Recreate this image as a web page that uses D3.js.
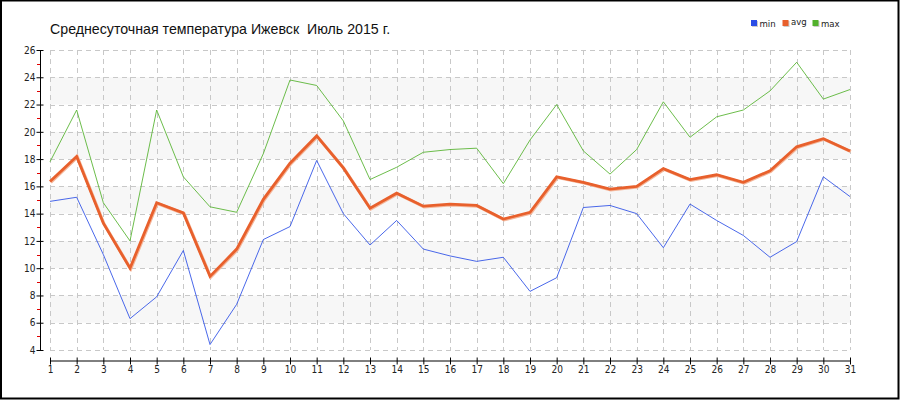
<!DOCTYPE html>
<html><head><meta charset="utf-8">
<script src="https://cdn.jsdelivr.net/npm/d3@7"></script>
<style>
html,body{margin:0;padding:0;background:#fff;}
svg{display:block;}
</style></head>
<body>
<svg id="c" width="900" height="400"></svg>
<script>
const days = d3.range(1, 32);
const minVals = [14.9,15.2,11.0,6.3,7.9,11.3,4.4,7.35,12.1,13.05,17.9,14.0,11.7,13.5,11.4,10.9,10.5,10.8,8.3,9.3,14.45,14.6,14.0,11.5,14.7,13.5,12.4,10.8,11.95,16.7,15.25];
const avgVals = [16.35,18.2,13.3,10.0,14.8,14.05,9.4,11.4,15.05,17.7,19.7,17.35,14.4,15.5,14.55,14.7,14.6,13.6,14.1,16.7,16.3,15.8,16.0,17.3,16.5,16.85,16.3,17.15,18.9,19.5,18.6];
const maxVals = [17.8,21.6,14.8,12.0,21.6,16.7,14.5,14.1,18.4,23.8,23.4,20.8,16.5,17.4,18.5,18.7,18.8,16.2,19.4,22.0,18.6,16.9,18.7,22.2,19.6,21.1,21.6,23.0,25.1,22.4,23.1];
const yTicks = [4,6,8,10,12,14,16,18,20,22,24,26];
const yMinor = [5,7,9,11,13,15,17,19,21,23,25];
const bands = [[6,8],[10,12],[14,16],[18,20],[22,24]];
const seriesNames = ["min","avg","max"];
const seriesColors = ["#2a4de6","#e8602c","#52b12c"];
const title = "Среднесуточная температура Ижевск  Июль 2015 г.";

const svg = d3.select("#c");
const x = d3.scaleLinear().domain([1,31]).range([50,850]);
const y = d3.scaleLinear().domain([4,26]).range([350,50]);
const tickFont = "'DejaVu Sans Condensed','DejaVu Sans',sans-serif";

// bands
svg.append("g").selectAll("rect").data(bands).join("rect")
  .attr("x", 50).attr("width", 800)
  .attr("y", d => y(d[1])).attr("height", d => y(d[0]) - y(d[1]))
  .attr("fill", "#f7f7f7");

// grid
const grid = svg.append("g").attr("stroke", "#c8c8c8").attr("stroke-dasharray", "5,4").attr("stroke-width", 1);
grid.selectAll("line.h").data(yTicks).join("line").attr("class","h")
  .attr("x1", 50).attr("x2", 850)
  .attr("y1", d => Math.round(y(d)) + 0.5).attr("y2", d => Math.round(y(d)) + 0.5);
grid.selectAll("line.v").data(days).join("line").attr("class","v")
  .attr("x1", d => Math.round(x(d)) + 0.5).attr("x2", d => Math.round(x(d)) + 0.5)
  .attr("y1", 50).attr("y2", 350);

// y axis
const yAxis = svg.append("g").attr("transform", "translate(40.5,0)")
  .call(d3.axisLeft(y).tickValues(yTicks).tickSize(4).tickSizeOuter(0).tickFormat(d3.format("d")));
yAxis.select(".domain").attr("stroke", "#000").attr("d", `M0,${y(26)}V${y(4)}`);
yAxis.selectAll(".tick line").attr("stroke", "#000").attr("x1", 3);
yAxis.selectAll(".tick text").attr("font-family", tickFont).attr("font-size", 10).attr("fill", "#222").attr("x", -5);
svg.append("g").selectAll("line").data(yMinor).join("line")
  .attr("x1", 37).attr("x2", 40)
  .attr("y1", d => Math.round(y(d)) + 0.5).attr("y2", d => Math.round(y(d)) + 0.5)
  .attr("stroke", "#e00000");

// x axis
const xAxis = svg.append("g").attr("transform", "translate(0,360.5)")
  .call(d3.axisBottom(x).tickValues(days).tickSize(4).tickSizeOuter(0).tickFormat(d3.format("d")));
xAxis.select(".domain").attr("stroke", "#000");
xAxis.selectAll(".tick line").attr("stroke", "#000").attr("y1", -3).attr("y2", 4);
xAxis.selectAll(".tick text").attr("font-family", tickFont).attr("font-size", 10).attr("fill", "#222").attr("y", 5);

// lines
const line = d3.line().x((d,i) => x(days[i])).y(d => y(d));
svg.append("path").datum(minVals).attr("d", line).attr("fill","none").attr("stroke", seriesColors[0]).attr("stroke-width", 1).attr("opacity",0.85);
svg.append("path").datum(maxVals).attr("d", line).attr("fill","none").attr("stroke", seriesColors[2]).attr("stroke-width", 1).attr("opacity",0.85);
svg.append("path").datum(avgVals).attr("d", line).attr("fill","none").attr("stroke", "#f4b69a").attr("stroke-width", 3)
  .attr("transform","translate(0.8,0.8)");
svg.append("path").datum(avgVals).attr("d", line).attr("fill","none").attr("stroke", seriesColors[1]).attr("stroke-width", 2.8).attr("stroke-linejoin","miter");

// title
svg.append("text").attr("x", 50).attr("y", 34).text(title)
  .style("white-space", "pre")
  .attr("font-family", "'Liberation Sans',Arial,sans-serif").attr("font-size", 14.2).attr("fill", "#111");

// legend
const legX = [751, 782.5, 812.5];
const leg = svg.append("g").selectAll("g").data(seriesNames).join("g")
  .attr("transform", (d,i) => `translate(${legX[i]},20)`);
leg.append("rect").attr("x",1).attr("y",1).attr("width",6).attr("height",6).attr("fill","#ccc");
leg.append("rect").attr("width",6).attr("height",6).attr("fill",(d,i)=>seriesColors[i]);
leg.append("text").attr("x", 8.5).attr("y", (d,i)=> i===1 ? 5 : 6.5).text(d=>d)
  .attr("font-family", tickFont).attr("font-size", 9.5).attr("fill", "#222");

// frame
svg.append("rect").attr("x",1).attr("y",0.5).attr("width",897.5).attr("height",398)
  .attr("fill","none").attr("stroke","#000").attr("stroke-width",2);
</script>
</body></html>
